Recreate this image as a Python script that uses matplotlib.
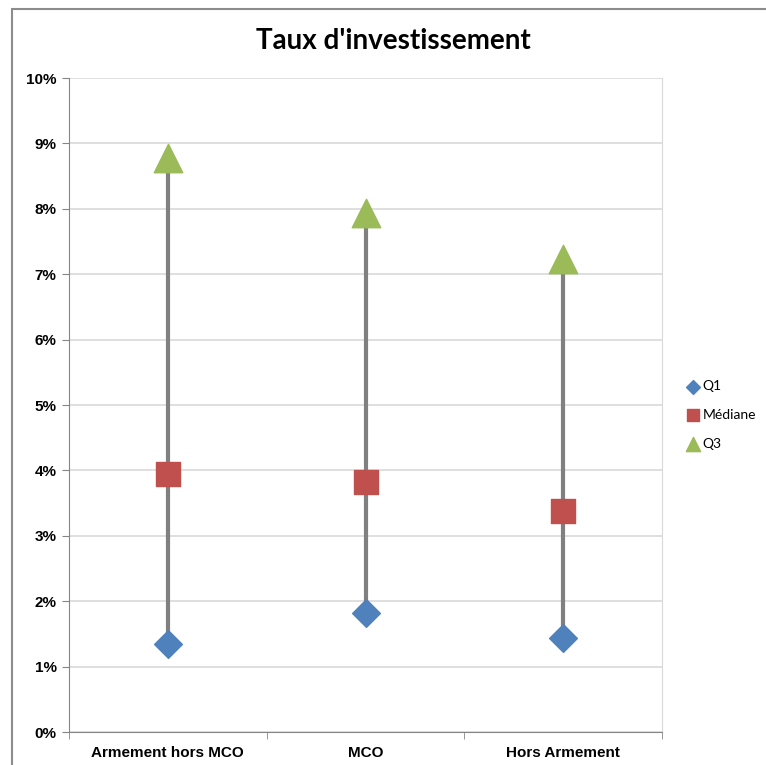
import matplotlib
matplotlib.use("Agg")
import matplotlib.pyplot as plt
from matplotlib.ticker import FuncFormatter, FixedLocator
from matplotlib.patches import Rectangle

categories = ['Armement hors MCO', 'MCO', 'Hors Armement']
q1 = [1.35, 1.82, 1.44]
mediane = [3.95, 3.82, 3.38]
q3 = [8.77, 7.93, 7.23]
y_ticks = list(range(0, 11))

fig = plt.figure(figsize=(7.66, 7.65), dpi=100)
fig.patches.append(Rectangle((11.5 / 766, -0.01), 1.0, (765 - 9) / 765 + 0.01,
                             transform=fig.transFigure, fill=False,
                             edgecolor='#8c8c8c', linewidth=1.5))

ax = fig.add_axes([69 / 766, 33 / 765, 593 / 766, 654 / 765])
x = list(range(len(categories)))

# high-low lines
ax.vlines(x, q1, q3, color='#808080', linewidth=3.0, zorder=2)
ax.scatter(x, q1, marker='D', s=200, color='#4F81BD', label='Q1', zorder=3)
ax.scatter(x, mediane, marker='s', s=300, color='#C0504D', label='Médiane', zorder=3)
ax.scatter(x, q3, marker='^', s=420, color='#9BBB59', label='Q3', zorder=3)

ax.set_xlim(-0.5, 2.5)
ax.set_ylim(0, 10)
ax.set_yticks(y_ticks)
ax.yaxis.set_major_formatter(FuncFormatter(lambda v, p: f'{int(v)}%'))
ax.grid(axis='y', color='#d9d9d9', linewidth=1.2)
ax.set_axisbelow(True)

ax.set_xticks(x)
ax.set_xticklabels(categories)
ax.xaxis.set_minor_locator(FixedLocator([-0.5, 0.5, 1.5, 2.5]))
ax.tick_params(axis='x', which='major', length=0, pad=10)
ax.tick_params(axis='x', which='minor', length=5, color='#868686')
ax.tick_params(axis='y', length=5, color='#868686', pad=4)
for lab in ax.get_xticklabels() + ax.get_yticklabels():
    lab.set_fontfamily('Liberation Sans')
    lab.set_fontweight('bold')
    lab.set_fontsize(11)

ax.spines['top'].set_visible(False)
ax.spines['right'].set_color('#d9d9d9')
ax.spines['left'].set_color('#868686')
ax.spines['bottom'].set_color('#868686')

fig.text(393 / 766, 1 - 41 / 765, "Taux d'investissement", ha='center', va='center',
         fontsize=20, fontweight='bold', family='Lato')

leg = fig.legend(loc='center left', bbox_to_anchor=(682 / 766, 1 - 415 / 765),
                 frameon=False, prop={'family': 'Lato', 'size': 10},
                 markerscale=0.5, handletextpad=0.1, labelspacing=1.2,
                 handlelength=1.2, borderaxespad=0, borderpad=0.2)

plt.savefig('out.png', dpi=100)
